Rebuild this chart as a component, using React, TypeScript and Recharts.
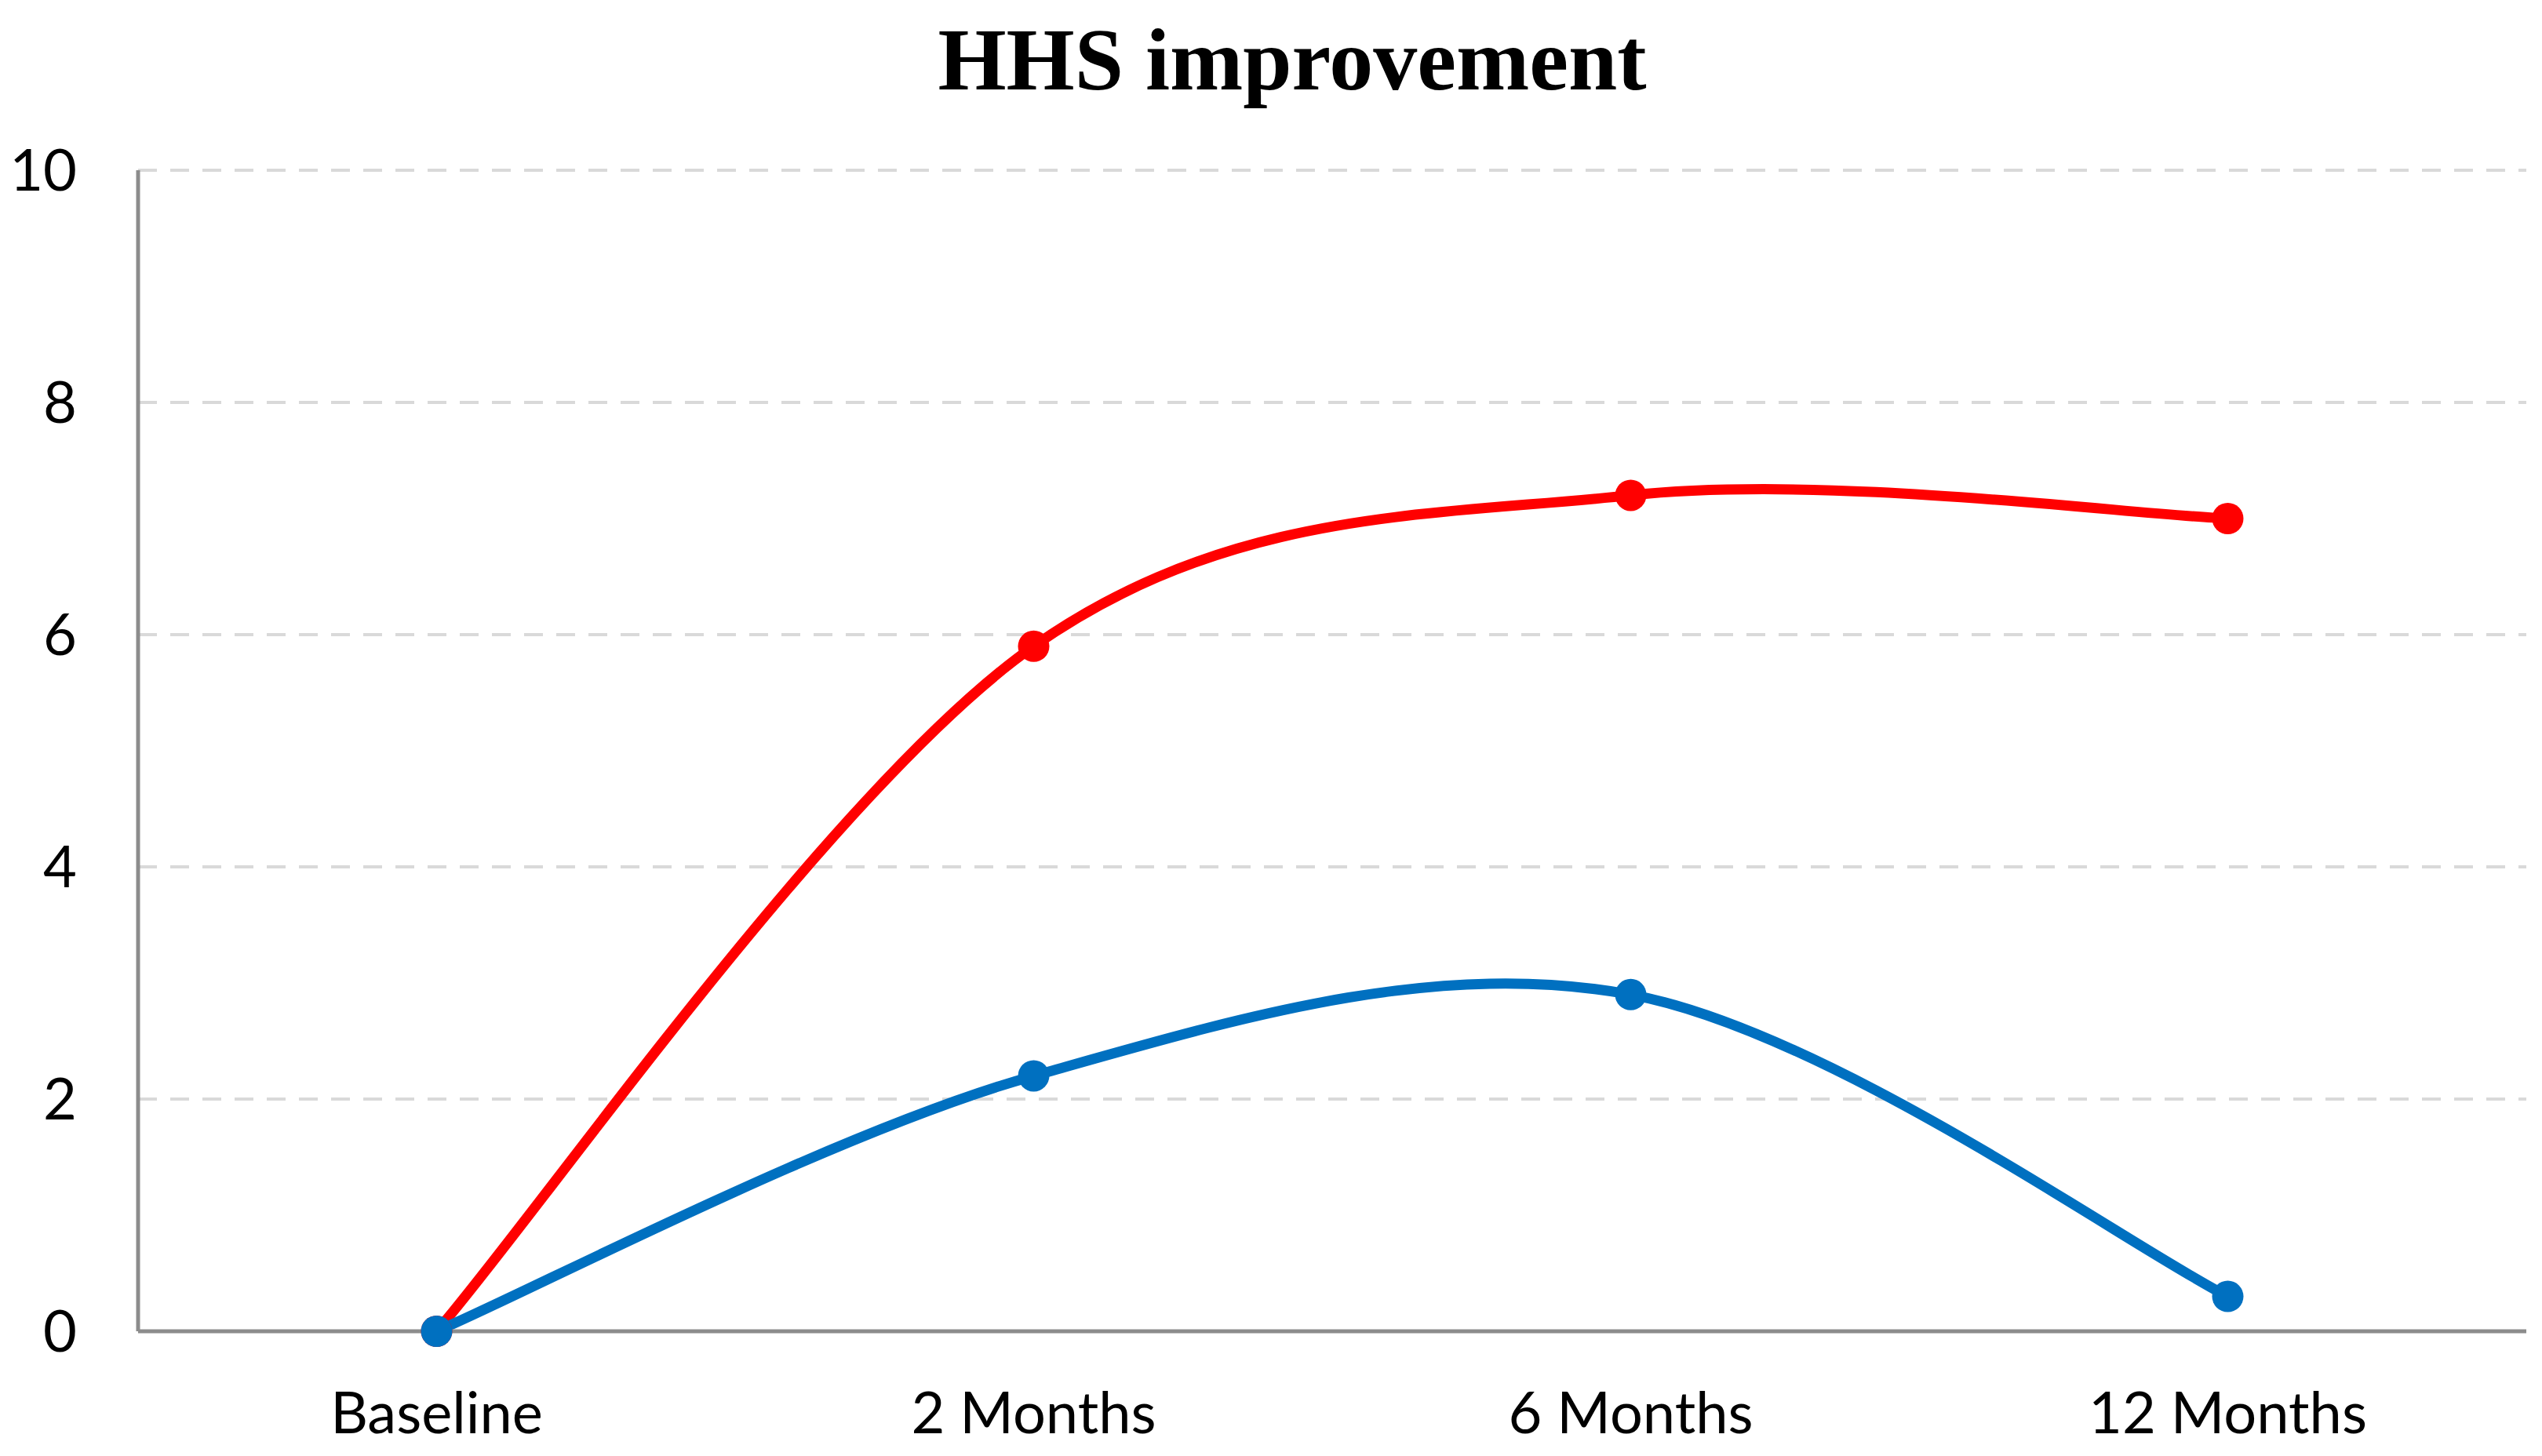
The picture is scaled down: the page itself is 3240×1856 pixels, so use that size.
import React from "react";
import { LineChart, Line, XAxis, YAxis, CartesianGrid } from "recharts";

const categories = ["Baseline", "2 Months", "6 Months", "12 Months"];
const redSeries = [0, 5.9, 7.2, 7.0];
const blueSeries = [0, 2.2, 2.9, 0.3];
const yTicks = [0, 2, 4, 6, 8, 10];
const titleText = "HHS improvement";

const data = categories.map((c, i) => ({ name: c, red: redSeries[i], blue: blueSeries[i] }));

// Excel-like smoothed line (Catmull-Rom style Bezier)
const excelSmooth = (context: any) => {
  let pts: number[][] = [];
  return {
    areaStart() {},
    areaEnd() {},
    lineStart() {
      pts = [];
    },
    point(x: number, y: number) {
      pts.push([+x, +y]);
    },
    lineEnd() {
      const n = pts.length;
      if (!n) return;
      context.moveTo(pts[0][0], pts[0][1]);
      if (n === 1) return;
      const t = 1 / 6;
      for (let i = 0; i < n - 1; i++) {
        const p0 = pts[Math.max(0, i - 1)];
        const p1 = pts[i];
        const p2 = pts[i + 1];
        const p3 = pts[Math.min(n - 1, i + 2)];
        context.bezierCurveTo(
          p1[0] + (p2[0] - p0[0]) * t,
          p1[1] + (p2[1] - p0[1]) * t,
          p2[0] - (p3[0] - p1[0]) * t,
          p2[1] - (p3[1] - p1[1]) * t,
          p2[0],
          p2[1]
        );
      }
    },
  };
};

const tickFont = { fontFamily: "Lato", fontSize: 74, fill: "#000" };

export default function App() {
  return (
    <div style={{ position: "relative", width: 3224, height: 1840 }}>
      <div
        style={{
          position: "absolute",
          left: 1639,
          top: 12,
          transform: "translateX(-50%)",
          whiteSpace: "nowrap",
          fontFamily: "Liberation Serif",
          fontWeight: "bold",
          fontSize: 112,
          lineHeight: 1,
          color: "#000",
        }}
      >
        {titleText}
      </div>
      <LineChart
        width={3224}
        height={1840}
        data={data}
        margin={{ top: 209, right: 12, bottom: 0, left: 0 }}
      >
        <CartesianGrid
          vertical={false}
          stroke="#d9d9d9"
          strokeWidth={4}
          strokeDasharray="24 17"
        />
        <XAxis
          dataKey="name"
          scale="band"
          height={151}
          axisLine={{ stroke: "#8c8c8c", strokeWidth: 5 }}
          tickLine={false}
          tickSize={0}
          tickMargin={77}
          tick={tickFont}
          interval={0}
        />
        <YAxis
          width={168}
          domain={[0, 10]}
          ticks={yTicks}
          axisLine={{ stroke: "#8c8c8c", strokeWidth: 5 }}
          tickLine={false}
          tickSize={0}
          tickMargin={78}
          tick={tickFont}
        />
        <Line
          dataKey="red"
          type={excelSmooth as any}
          stroke="#ff0000"
          strokeWidth={13}
          dot={{ r: 20, fill: "#ff0000", stroke: "#ff0000", strokeWidth: 0 }}
          activeDot={false}
          isAnimationActive={false}
        />
        <Line
          dataKey="blue"
          type={excelSmooth as any}
          stroke="#0070c0"
          strokeWidth={13}
          dot={{ r: 20, fill: "#0070c0", stroke: "#0070c0", strokeWidth: 0 }}
          activeDot={false}
          isAnimationActive={false}
        />
      </LineChart>
    </div>
  );
}
